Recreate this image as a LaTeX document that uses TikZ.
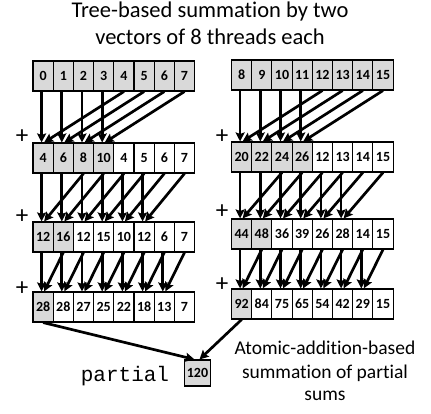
\documentclass[tikz,border=0pt]{standalone}
\usepackage{fontspec}
\setmainfont{Carlito}[Ligatures=NoCommon]
\newfontfamily\monof{Liberation Mono}
\usetikzlibrary{arrows.meta}
\begin{document}
\begin{tikzpicture}[x=1pt,y=-1pt,
  cell/.style={draw=black,line width=1.1pt,minimum width=20.2pt,minimum height=30pt,inner sep=0pt,
    text height=9.5pt,text depth=0pt,font=\fontsize{14}{14}\selectfont\bfseries},
  shaded/.style={fill=black!15},
  arr/.style={line width=2.7pt,-{Stealth[length=9pt,width=9pt,inset=1.5pt]}},
  ttl/.style={font=\fontsize{22.5}{22.5}\selectfont,anchor=base},
  captxt/.style={font=\fontsize{19.5}{19.5}\selectfont,anchor=base},
  plus/.style={font=\fontsize{25}{25}\selectfont}]
\path[use as bounding box] (0,0) rectangle (431,414);
% title
\node[ttl] (t1) at (210,18) {Tree-based summation by two};
\node[ttl] (t2) at (210,44.5) {vectors of 8 threads each};
% arrays
\def\drawrow#1#2#3#4#5{% name, x0, ytop, nshaded, values
  \foreach \v [count=\i from 0] in {#5} {
    \pgfmathsetmacro{\cx}{#2+20.2*\i+10.1}
    \ifnum\i<#4
      \node[cell,shaded] (#1-\i) at (\cx,#3+15) {\v};
    \else
      \node[cell] (#1-\i) at (\cx,#3+15) {\v};
    \fi
  }}
\drawrow{La}{33}{61}{8}{0,1,2,3,4,5,6,7}
\drawrow{Lb}{33}{143}{4}{4,6,8,10,4,5,6,7}
\drawrow{Lc}{33}{222}{2}{12,16,12,15,10,12,6,7}
\drawrow{Ld}{33}{292}{1}{28,28,27,25,22,18,13,7}
\drawrow{Ra}{231.5}{60}{8}{8,9,10,11,12,13,14,15}
\drawrow{Rb}{231.5}{142}{4}{20,22,24,26,12,13,14,15}
\drawrow{Rc}{231.5}{219}{2}{44,48,36,39,26,28,14,15}
\drawrow{Rd}{231.5}{289}{1}{92,84,75,65,54,42,29,15}
% arrows
\def\arrows#1#2#3#4{% from, to, stride, last index
  \foreach \i in {0,...,#4} {
    \pgfmathtruncatemacro{\j}{\i+#3}
    \draw[arr] ([xshift=-1.5pt]#1-\i.south) -- ([xshift=-1.5pt]#2-\i.north);
    \draw[arr] (#1-\j.south) -- ([xshift=1pt]#2-\i.north);
  }}
\arrows{La}{Lb}{4}{3}
\arrows{Lb}{Lc}{2}{5}
\arrows{Lc}{Ld}{1}{6}
\arrows{Ra}{Rb}{4}{3}
\arrows{Rb}{Rc}{2}{5}
\arrows{Rc}{Rd}{1}{6}
% plus signs
\foreach \n/\x/\y in {p1/22/137,p2/22/217,p3/22/289,p4/222/137,p5/222/212,p6/222/285}
  \node[plus] (\n) at (\x,\y) {+};
% result
\node[cell,shaded,minimum width=26pt,minimum height=26pt] (res) at (197.5,373) {120};
\node[font=\monof\fontsize{21}{21}\selectfont,anchor=base] (part) at (125,381) {partial};
\draw[arr] (Ld-0.south) -- ([xshift=-3pt]res.north);
\draw[arr] (Rd-0.south) -- ([xshift=2pt]res.north);
% caption
\node[captxt] (c1) at (325,354) {Atomic-addition-based};
\node[captxt] (c2) at (325,378) {summation of partial};
\node[captxt] (c3) at (325,400) {sums};
\end{tikzpicture}
\end{document}
